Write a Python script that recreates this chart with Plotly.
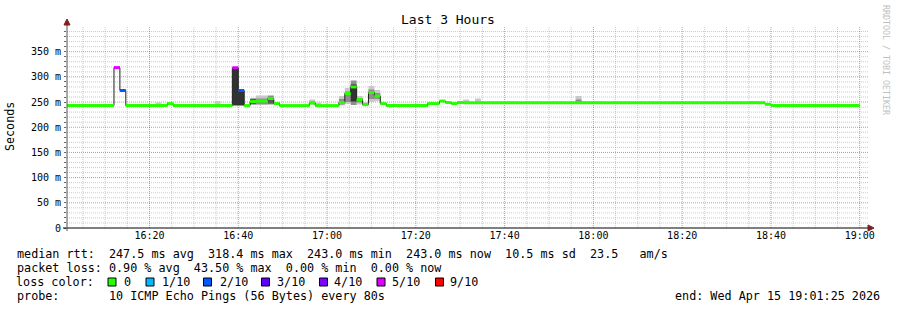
import datetime as dt
import plotly.graph_objects as go

# ---------------- data ----------------
T0 = dt.datetime(2026, 4, 15, 16, 20, 0)   # reference step boundary
STEP_SEC = 80
END_STEP = 120                              # last step ends 19:00:00
X_START = "2026-04-15 16:01:25"
X_END = "2026-04-15 19:01:25"

# median rtt, run-length segments (start step index, value in ms, loss class)
MED_START = [-14, -6, -5, -4, 3, 4, 14, 15, 16, 17, 18, 20, 21, 22, 27, 28, 32, 33, 34,
             35, 36, 37, 38, 39, 40, 47, 49, 50, 51, 52, 53, 104, 105]
MED_MS = [243.0, 318.4, 273.0, 243.0, 247.0, 243.0, 318.0, 273.0, 243.0, 251.0, 252.0,
          257.0, 247.0, 243.0, 248.0, 243.0, 249.0, 267.0, 280.0, 255.0, 245.0, 269.0,
          262.0, 247.0, 243.0, 247.0, 252.0, 249.0, 247.0, 249.0, 248.5, 245.5, 243.0]
MED_LOSS = [0, 5, 2, 0, 0, 0, 5, 2, 0, 0, 0, 0, 0, 0, 0, 0, 0, 0, 0,
            0, 0, 0, 0, 0, 0, 0, 0, 0, 0, 0, 0, 0, 0]

# smoke (spread of the individual pings): step, low ms, high ms, rank band (1 outer .. 4 inner)
SMOKE_STEP = [1, 11, 14, 15, 17, 18, 18, 19, 19, 20, 20, 27, 27, 28, 32, 32, 33, 33, 34, 34,
              35, 35, 36, 37, 37, 38, 38, 39, 53, 55, 72, 72, 73, 101, 102]
SMOKE_LO = [243, 243, 243, 243, 245, 245, 245, 245, 245, 245, 247, 245, 246, 244, 243, 245,
            246, 250, 244, 251, 245, 249, 243, 250, 256, 252, 256, 244, 248, 248, 248, 248,
            248, 248, 248]
SMOKE_HI = [249, 252, 318, 273, 257, 263, 257, 263, 257, 263, 258, 255, 251, 249, 262, 256,
            278, 271, 293, 285, 262, 258, 250, 282, 275, 274, 268, 250, 255, 257, 262, 255,
            251, 252, 252]
SMOKE_BAND = [1, 1, 4, 4, 3, 1, 2, 1, 2, 2, 3, 1, 2, 1, 1, 2, 1, 2, 2, 4, 1, 2, 1, 1, 2, 1, 2,
              1, 1, 1, 1, 2, 1, 1, 1]

LOSS_LABELS = ["0", "1/10", "2/10", "3/10", "4/10", "5/10", "9/10"]
LOSS_COLORS = ["#26ff00", "#00b8ff", "#0059ff", "#5e00ff", "#7e00ff", "#dd00ff", "#ff0000"]

Y_TICKS = [0, 50, 100, 150, 200, 250, 300, 350]
Y_TICKTEXT = ["0", "50 m", "100 m", "150 m", "200 m", "250 m", "300 m", "350 m"]

TITLE = "Last 3 Hours"
Y_TITLE = "Seconds"
LINE1 = "median rtt:  247.5 ms avg  318.4 ms max  243.0 ms min  243.0 ms now  10.5 ms sd  23.5   am/s"
LINE2 = "packet loss: 0.90 % avg  43.50 % max  0.00 % min  0.00 % now"
LINE3 = "loss color:"
LINE4 = "probe:       10 ICMP Echo Pings (56 Bytes) every 80s"
END_TEXT = "end: Wed Apr 15 19:01:25 2026"
WATERMARK = "RRDTOOL / TOBI OETIKER"

# ---------------- style / layout ----------------
W, H = 897, 310
L, R, T, B = 67, 866, 27, 228
MONO = "DejaVu Sans Mono"
BAND_COLORS = {1: "#c8c8c8", 2: "#8e8e8e", 3: "#5a5a5a", 4: "#323232"}
MAJOR_GRID = "rgba(255,0,0,0.5)"
MINOR_GRID = "rgba(140,140,140,0.45)"
Y_MAX = 399


def tstep(n):
    return T0 + dt.timedelta(seconds=STEP_SEC * n)


def pxp(x):
    return (x - L) / (R - L)


def pyp(y):
    return (B - y) / (B - T)


def nb(s):
    return s.replace(" ", "\u00a0")


fig = go.Figure()

# smoke bands
for band in sorted(set(SMOKE_BAND)):
    xs, ys = [], []
    for s, lo, hi, b in zip(SMOKE_STEP, SMOKE_LO, SMOKE_HI, SMOKE_BAND):
        if b != band:
            continue
        t0, t1 = tstep(s), tstep(s + 1)
        xs += [t0, t1, t1, t0, t0, None]
        ys += [lo, lo, hi, hi, lo, None]
    fig.add_trace(go.Scatter(x=xs, y=ys, mode="lines", fill="toself",
                             fillcolor=BAND_COLORS[band], line=dict(width=0),
                             hoverinfo="skip", showlegend=False))

# black median step line
seg_ends = MED_START[1:] + [END_STEP]
bx = [tstep(s) for s in MED_START] + [tstep(END_STEP)]
by = MED_MS + [MED_MS[-1]]
fig.add_trace(go.Scatter(x=bx, y=by, mode="lines", line=dict(color="#202020", width=1, shape="hv"),
                         hoverinfo="skip", showlegend=False))

# loss-coloured median bands
for li, col in enumerate(LOSS_COLORS):
    xs, ys = [], []
    for s, e, v, lo in zip(MED_START, seg_ends, MED_MS, MED_LOSS):
        if lo != li:
            continue
        xs += [tstep(s), tstep(e), None]
        ys += [v, v, None]
    if xs:
        fig.add_trace(go.Scatter(x=xs, y=ys, mode="lines", line=dict(color=col, width=3),
                                 hoverinfo="skip", showlegend=False))


def note(x, y, text, size, xanchor="left", angle=0, color="#000"):
    return dict(xref="paper", yref="paper", x=pxp(x), y=pyp(y), text=nb(text), showarrow=False,
                xanchor=xanchor, yanchor="middle", textangle=angle, borderpad=0,
                font=dict(family=MONO, size=size, color=color))


ann = [
    note(448, 19.5, TITLE, 13, "center"),
    note(10, 127, Y_TITLE, 11.7, "center", -90),
    note(886, 60, WATERMARK, 8.3, "center", 90, "#c0c0c0"),
]
for txt, yy in [(LINE1, 254), (LINE2, 268.3), (LINE3, 282.3), (LINE4, 296)]:
    ann.append(note(15.5, yy, txt, 11.75))
ann.append(note(881, 296, END_TEXT, 11.75, "right"))

BOX_X = [108, 146, 203.5, 261.5, 319.5, 377, 435.5]
LABEL_X = [123, 161, 219, 276, 333.3, 391, 449]
shapes = []
for lab, col, bxp, lxp in zip(LOSS_LABELS, LOSS_COLORS, BOX_X, LABEL_X):
    shapes.append(dict(type="rect", xref="paper", yref="paper", x0=pxp(bxp), x1=pxp(bxp + 8),
                       y0=pyp(286), y1=pyp(278), fillcolor=col, line=dict(color="#000", width=1)))
    ann.append(note(lxp - 0.5, 282.3, lab, 11.75))

# grid lines (dotted), drawn below the data
x_major, x_minor = [], []
g = dt.datetime(2026, 4, 15, 16, 5, 0)
while g <= dt.datetime(2026, 4, 15, 19, 1, 0):
    (x_major if g.minute % 20 == 0 else x_minor).append(g)
    g += dt.timedelta(minutes=5)
y_major = [v for v in range(50, Y_MAX, 50)]
y_minor = [v for v in range(10, Y_MAX, 10) if v % 50 != 0]
y_all = [v for v in range(0, Y_MAX, 10)]
for xv in x_minor:
    shapes.append(dict(type="line", xref="x", yref="paper", x0=xv, x1=xv, y0=0, y1=1, layer="below",
                       line=dict(color=MINOR_GRID, width=1, dash="1px,1px")))
for yv in y_minor:
    shapes.append(dict(type="line", xref="paper", yref="y", x0=0, x1=1.003, y0=yv, y1=yv, layer="below",
                       line=dict(color=MINOR_GRID, width=1, dash="1px,1px")))
for xv in x_major:
    shapes.append(dict(type="line", xref="x", yref="paper", x0=xv, x1=xv, y0=0, y1=1, layer="below",
                       line=dict(color=MAJOR_GRID, width=1, dash="1px,1px")))
for yv in y_major:
    shapes.append(dict(type="line", xref="paper", yref="y", x0=0, x1=1.003, y0=yv, y1=yv, layer="below",
                       line=dict(color=MAJOR_GRID, width=1, dash="1px,1px")))

# axis lines and arrows
shapes.append(dict(type="line", xref="paper", yref="paper", x0=pxp(63), x1=pxp(869),
                   y0=0, y1=0, line=dict(color="#000", width=1)))
shapes.append(dict(type="line", xref="paper", yref="paper", x0=0, x1=0,
                   y0=pyp(231), y1=pyp(24), line=dict(color="#555", width=1)))
shapes.append(dict(type="path", xref="paper", yref="paper",
                   path=f"M {pxp(868)} {pyp(225)} L {pxp(874)} {pyp(228)} L {pxp(868)} {pyp(231)} Z",
                   fillcolor="#7f1f1f", line=dict(color="#7f1f1f", width=1)))
shapes.append(dict(type="path", xref="paper", yref="paper",
                   path=f"M {pxp(64)} {pyp(25)} L {pxp(67)} {pyp(19)} L {pxp(70)} {pyp(25)} Z",
                   fillcolor="#7f1f1f", line=dict(color="#7f1f1f", width=1)))

fig.update_layout(
    width=W, height=H,
    margin=dict(l=L, r=W - R, t=T, b=H - B, pad=0),
    paper_bgcolor="#ffffff", plot_bgcolor="#ffffff",
    showlegend=False, hovermode=False,
    annotations=ann, shapes=shapes,
    xaxis=dict(type="date", range=[X_START, X_END], tickformat="%H:%M",
               tick0="2026-04-15 16:00", dtick=1200000, showline=False, zeroline=False,
               showgrid=False, ticks="", tickfont=dict(family=MONO, size=10, color="#000"),
               fixedrange=True),
    yaxis=dict(range=[0, Y_MAX], tickvals=Y_TICKS, ticktext=Y_TICKTEXT, showline=False,
               zeroline=False, showgrid=False, ticks="outside", ticklen=3, tickcolor="rgba(0,0,0,0)",
               tickfont=dict(family=MONO, size=10, color="#000"),
               minor=dict(tickmode="array", tickvals=y_all, showgrid=False,
                          ticks="outside", ticklen=2, tickcolor="#666"),
               fixedrange=True),
)

fig.write_html("out.html", config={"displayModeBar": False})
